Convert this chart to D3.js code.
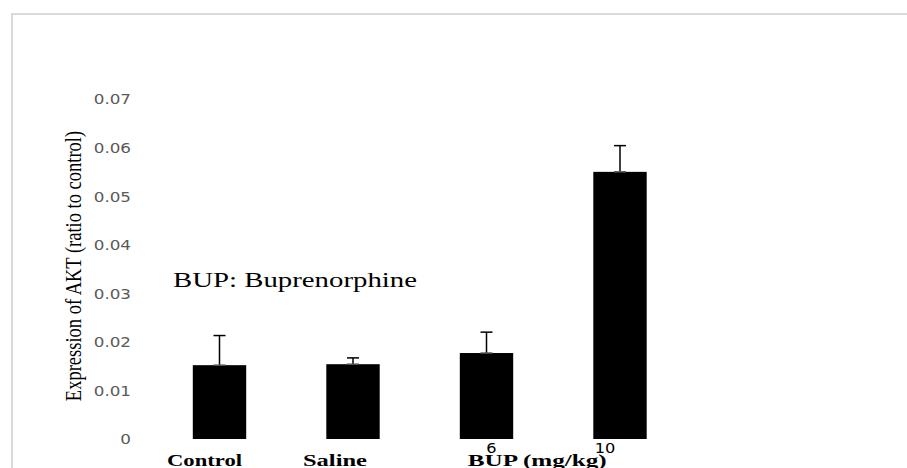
<!DOCTYPE html>
<html><head><meta charset="utf-8">
<script src="https://cdn.jsdelivr.net/npm/d3@7"></script>
<style>html,body{margin:0;padding:0;background:#fff;}svg{display:block;}</style>
</head><body>
<script>
const categories = ["Control", "Saline", "BUP 6", "BUP 10"];
const values = [0.0152, 0.0154, 0.0177, 0.0550];
const errors = [0.0061, 0.0013, 0.0043, 0.0054];
const tickValues = [0, 0.01, 0.02, 0.03, 0.04, 0.05, 0.06, 0.07];
const tickLabels = ["0", "0.01", "0.02", "0.03", "0.04", "0.05", "0.06", "0.07"];
const groupLabels = ["Control", "Saline", "BUP (mg/kg)"];
const doseLabels = ["6", "10"];
const yTitle = "Expression of AKT (ratio to control)";
const note = "BUP:  Buprenorphine";

const W = 907, H = 468, SX = 1.28;
const svg = d3.select("body").append("svg").attr("width", W).attr("height", H);

// frame
svg.append("path").attr("d", `M12,${H} V14 H${W}`).attr("fill", "none")
  .attr("stroke", "#d9d9d9").attr("stroke-width", 2);

const x = d3.scaleBand().domain(categories).range([152.75, 686.75]).paddingInner(0.6).paddingOuter(0.3);
const y = d3.scaleLinear().domain([0, 0.07]).range([439, 99]);

function stretch(sel, f) {
  sel.each(function () {
    const l = this.getComputedTextLength();
    d3.select(this).attr("textLength", l * f).attr("lengthAdjust", "spacingAndGlyphs");
  });
}

// y tick labels
const yAxis = svg.append("g").attr("transform", "translate(131,0)")
  .call(d3.axisLeft(y).tickValues(tickValues).tickFormat((d, i) => tickLabels[i]).tickSize(0).tickPadding(0));
yAxis.select(".domain").remove();
yAxis.selectAll("text").attr("font-family", "DejaVu Sans").attr("font-size", 13.5)
  .attr("fill", "#595959").attr("dy", "0.36em").call(stretch, 1.24);

// bars
svg.append("g").selectAll("rect").data(values).join("rect")
  .attr("x", (d, i) => x(categories[i])).attr("width", x.bandwidth())
  .attr("y", d => y(d)).attr("height", d => y(0) - y(d)).attr("fill", "#000");

// error bars
const eb = svg.append("g").attr("stroke", "#000").attr("stroke-width", 1.5);
values.forEach((v, i) => {
  const cx = x(categories[i]) + x.bandwidth() / 2;
  eb.append("line").attr("x1", cx).attr("x2", cx).attr("y1", y(v)).attr("y2", y(v + errors[i]));
  eb.append("line").attr("x1", cx - 6).attr("x2", cx + 6).attr("y1", y(v + errors[i])).attr("y2", y(v + errors[i]));
  eb.append("line").attr("x1", cx - 6).attr("x2", cx + 6).attr("y1", y(v)).attr("y2", y(v)).attr("stroke", "#555");
});

// group labels
const c = i => x(categories[i]) + x.bandwidth() / 2;
const gpos = [c(0) - 15, c(1) - 18, (c(2) + c(3)) / 2 - 16];
const gwid = [75, 64, 139];
svg.append("g").selectAll("text").data(groupLabels).join("text")
  .attr("x", (d, i) => gpos[i]).attr("y", 465.5).attr("text-anchor", "middle")
  .attr("font-family", "Liberation Serif").attr("font-weight", "bold").attr("font-size", 17.5)
  .attr("fill", "#000").attr("textLength", (d, i) => gwid[i]).attr("lengthAdjust", "spacingAndGlyphs")
  .text(d => d);

// dose labels
const dpos = [c(2) + 5, c(3) - 15];
svg.append("g").selectAll("text").data(doseLabels).join("text")
  .attr("x", (d, i) => dpos[i]).attr("y", 453).attr("text-anchor", "middle")
  .attr("font-family", "DejaVu Sans").attr("font-size", 13.5).attr("fill", "#000")
  .text(d => d).call(stretch, 1.2);

// note
svg.append("text").attr("x", 173).attr("y", 286.5).attr("font-family", "Liberation Serif")
  .attr("font-size", 22).attr("fill", "#000").attr("textLength", 244)
  .attr("lengthAdjust", "spacingAndGlyphs").text(note);

// y title
svg.append("text").attr("transform", `translate(81,266) scale(${SX},1) rotate(-90)`)
  .attr("text-anchor", "middle").attr("font-family", "Liberation Serif").attr("font-size", 18.5)
  .attr("fill", "#000").text(yTitle);
</script>
</body></html>
